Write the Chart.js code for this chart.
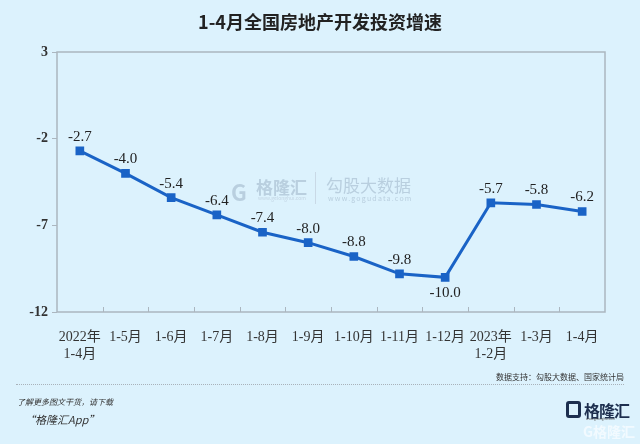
<!DOCTYPE html>
<html><head><meta charset="utf-8">
<script src="https://cdn.jsdelivr.net/npm/chart.js@4"></script>
<style>
html,body{margin:0;padding:0;}
body{width:640px;height:444px;background:#dcf2fd;position:relative;overflow:hidden;font-family:"Noto Sans CJK SC","Noto Sans",sans-serif;}
#c{position:absolute;left:0;top:0;}
.t{position:absolute;white-space:nowrap;}
</style></head>
<body>
<canvas id="c" width="640" height="444"></canvas>
<div class="t" style="left:0;width:640px;top:8px;text-align:center;font-size:18px;font-weight:bold;color:#222;">1-4月全国房地产开发投资增速</div>
<div class="t" style="left:231px;top:175px;color:#b9cfdf;font-size:22px;font-weight:bold;">G</div>
<div class="t" style="left:256px;top:174px;color:#b9cfdf;font-size:17px;font-weight:bold;">格隆汇</div>
<div class="t" style="left:258px;top:194px;color:#c3d5e3;font-size:5px;">www.gelonghui.com</div>
<div class="t" style="left:315px;top:172px;width:1px;height:32px;background:#c9d9e6;"></div>
<div class="t" style="left:326px;top:172px;color:#b9cfdf;font-size:17px;">勾股大数据</div>
<div class="t" style="left:328px;top:193px;color:#b9cfdf;font-size:7px;letter-spacing:1.2px;">www.gogudata.com</div>
<div class="t" style="right:16px;top:371px;font-size:8px;color:#333;">数据支持：勾股大数据、国家统计局</div>
<div class="t" style="left:16px;top:384px;width:608px;border-top:1px dotted #a9b2ba;"></div>
<div class="t" style="left:17px;top:396px;font-size:8px;font-style:italic;color:#333;">了解更多图文干货，请下载</div>
<div class="t" style="left:24px;top:411px;font-size:11px;font-style:italic;color:#333;">“格隆汇App”</div>
<div class="t" style="left:566px;top:401px;width:15px;height:17px;border:3px solid #1d2f4f;border-radius:3px;box-sizing:border-box;"></div>
<div class="t" style="left:584px;top:398px;font-size:16px;font-weight:bold;color:#1d2f4f;letter-spacing:-1px;">格隆汇</div>
<div class="t" style="left:586px;top:417px;font-size:3px;color:#555;">www.gelonghui.com</div>
<div class="t" style="left:583px;top:421px;font-size:14px;font-weight:bold;color:#f4fbff;opacity:0.9;">G格隆汇</div>
<script>
const categories = [["2022年","1-4月"],"1-5月","1-6月","1-7月","1-8月","1-9月","1-10月","1-11月","1-12月",["2023年","1-2月"],"1-3月","1-4月"];
const growth = [-2.7,-4.0,-5.4,-6.4,-7.4,-8.0,-8.8,-9.8,-10.0,-5.7,-5.8,-6.2];
const yTicks = [3,-2,-7,-12];
const lineColor = '#1a63c6';

const framePlugin = {
  id:'frame',
  afterDatasetsDraw(chart){
    const ctx = chart.ctx, a = chart.chartArea, xs = chart.scales.x;
    ctx.save();
    ctx.strokeStyle = '#abb6bf';
    ctx.lineWidth = 1.5;
    ctx.strokeRect(a.left, a.top, a.right - a.left, a.bottom - a.top);
    ctx.lineWidth = 1;
    ctx.beginPath();
    for (let i = 0; i < categories.length - 1; i++) {
      const x = Math.round((xs.getPixelForValue(i) + xs.getPixelForValue(i + 1)) / 2) + 0.5;
      ctx.moveTo(x, a.bottom);
      ctx.lineTo(x, a.bottom - 5);
    }
    ctx.stroke();
    const meta = chart.getDatasetMeta(0);
    ctx.fillStyle = '#222';
    ctx.font = '15px "Liberation Serif", "Times New Roman", serif';
    ctx.textAlign = 'center';
    ctx.textBaseline = 'middle';
    meta.data.forEach((pt, i) => {
      const v = growth[i];
      const below = (i === 8);
      ctx.fillText(v.toFixed(1), pt.x, below ? pt.y + 16 : pt.y - 14);
    });
    ctx.restore();
  }
};

new Chart(document.getElementById('c'), {
  type:'line',
  data:{ labels: categories, datasets:[{ data: growth, borderColor: lineColor, backgroundColor: lineColor, borderWidth: 3, pointStyle:'rect', pointRadius: 4, pointHoverRadius: 4, tension: 0 }] },
  options:{
    responsive:false, animation:false, devicePixelRatio:1,
    layout:{ padding:{ left:0, right:35, top:52, bottom:0 } },
    plugins:{ legend:{display:false}, tooltip:{enabled:false} },
    scales:{
      x:{
        offset:true,
        grid:{ display:false },
        border:{ display:false },
        ticks:{ color:'#333', padding:9, maxRotation:0, autoSkip:false, font:{ family:'"Liberation Serif", "Noto Sans CJK SC", serif', size:14 } },
        afterFit(s){ s.height = 132; }
      },
      y:{
        min:-12, max:3,
        afterBuildTicks(s){ s.ticks = yTicks.map(v => ({value:v})); },
        grid:{ drawOnChartArea:false, tickLength:5, color:'#abb6bf' },
        border:{ display:false },
        ticks:{ color:'#333', padding:4, font:{ family:'"Liberation Serif", serif', size:14, weight:'bold' } },
        afterFit(s){ s.width = 57; }
      }
    }
  },
  plugins:[framePlugin]
});
</script>
</body></html>
